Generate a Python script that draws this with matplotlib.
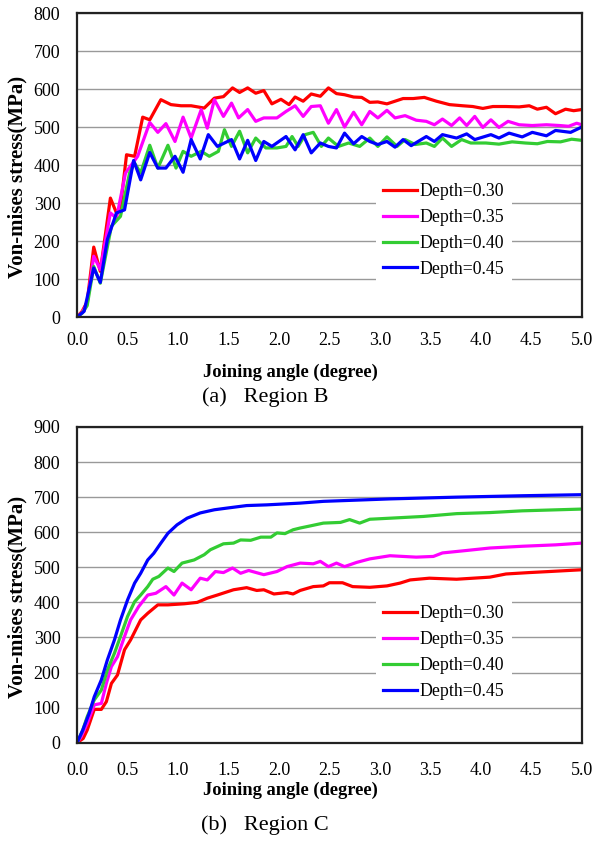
import numpy as np
import matplotlib
matplotlib.use("Agg")
import matplotlib.pyplot as plt

# Fonts - Times like look of the original figure
plt.rcParams['font.family'] = ['Liberation Serif', 'DejaVu Serif']

# Data (joining angle in degree, stress in MPa)

depth_labels = ['Depth=0.30', 'Depth=0.35', 'Depth=0.40', 'Depth=0.45']
depth_colors = ['#ff0000', '#ff00ff', '#33cc33', '#0000ff']

# Region B
b_x30 = [0, 0.05, 0.1, 0.165, 0.23, 0.33, 0.39, 0.43, 0.49, 0.57, 0.65, 0.72, 0.83, 0.93,
         1.03, 1.13, 1.26, 1.36, 1.45, 1.54, 1.61, 1.69, 1.77, 1.85, 1.93, 2.02, 2.1, 2.16,
         2.24, 2.32, 2.41, 2.49, 2.57, 2.65, 2.74, 2.82, 2.9, 2.98, 3.07, 3.15, 3.23, 3.33,
         3.44, 3.56, 3.69, 3.82, 3.92, 4.02, 4.12, 4.25, 4.38, 4.48, 4.56, 4.65, 4.74, 4.84,
         4.92, 5.0]
b_y30 = [0, 15, 40, 184, 120, 313, 274, 290, 427, 423, 526, 519, 572, 559,
         556, 556, 550, 576, 580, 603, 591, 603, 589, 596, 561, 573, 559, 579,
         568, 587, 581, 603, 588, 585, 579, 578, 565, 566, 561, 568, 575, 575,
         578, 568, 559, 556, 554, 549, 554, 554, 553, 556, 547, 552, 535, 547,
         543, 546]

b_x35 = [0, 0.05, 0.1, 0.165, 0.23, 0.33, 0.39, 0.48, 0.6, 0.72, 0.8, 0.88, 0.97, 1.05,
         1.13, 1.23, 1.29, 1.36, 1.45, 1.53, 1.6, 1.69, 1.77, 1.85, 1.98, 2.07, 2.16, 2.24,
         2.32, 2.41, 2.49, 2.57, 2.65, 2.74, 2.82, 2.9, 2.98, 3.07, 3.15, 3.25, 3.36, 3.46,
         3.54, 3.62, 3.71, 3.79, 3.86, 3.94, 4.02, 4.1, 4.18, 4.27, 4.38, 4.51, 4.65, 4.78,
         4.87, 4.95, 5.0]
b_y35 = [0, 12, 35, 160, 125, 274, 260, 379, 423, 512, 486, 509, 462, 526,
         471, 546, 497, 572, 528, 563, 524, 546, 515, 524, 524, 541, 556, 528,
         554, 556, 510, 546, 500, 539, 506, 541, 524, 544, 524, 530, 518, 515,
         506, 521, 504, 524, 504, 528, 499, 519, 499, 515, 506, 504, 506, 504,
         502, 510, 506]

b_x40 = [0, 0.05, 0.1, 0.165, 0.23, 0.34, 0.43, 0.52, 0.57, 0.63, 0.72, 0.8, 0.9, 0.98,
         1.05, 1.13, 1.23, 1.31, 1.4, 1.46, 1.53, 1.61, 1.69, 1.77, 1.87, 1.98, 2.07, 2.13,
         2.19, 2.26, 2.34, 2.42, 2.49, 2.59, 2.69, 2.8, 2.9, 2.98, 3.07, 3.17, 3.25, 3.35,
         3.46, 3.54, 3.62, 3.71, 3.81, 3.9, 4.05, 4.18, 4.31, 4.44, 4.56, 4.66, 4.79, 4.9,
         5.0]
b_y40 = [0, 10, 30, 133, 89, 239, 265, 379, 405, 379, 452, 392, 452, 392,
         436, 423, 436, 423, 436, 493, 449, 489, 432, 471, 445, 445, 449, 475,
         449, 480, 486, 449, 471, 449, 458, 449, 471, 449, 474, 449, 467, 454,
         458, 449, 471, 449, 467, 458, 458, 455, 461, 458, 456, 462, 461, 468,
         465]

b_x45 = [0, 0.07, 0.165, 0.23, 0.3, 0.39, 0.47, 0.56, 0.63, 0.72, 0.8, 0.88, 0.97, 1.05,
         1.13, 1.22, 1.3, 1.39, 1.53, 1.61, 1.69, 1.77, 1.85, 1.93, 2.07, 2.16, 2.24, 2.32,
         2.41, 2.49, 2.57, 2.65, 2.74, 2.82, 2.9, 2.98, 3.07, 3.15, 3.23, 3.31, 3.46, 3.54,
         3.62, 3.76, 3.86, 3.94, 4.1, 4.18, 4.28, 4.41, 4.51, 4.65, 4.74, 4.89, 5.0]
b_y45 = [0, 15, 129, 91, 204, 274, 282, 412, 361, 433, 392, 392, 423, 381,
         467, 416, 480, 449, 467, 416, 465, 412, 462, 449, 475, 440, 480, 432,
         458, 449, 445, 484, 456, 475, 462, 454, 462, 447, 467, 451, 475, 462,
         480, 471, 482, 467, 480, 471, 484, 474, 486, 477, 491, 486, 500]

# Region C
c_x30 = [0, 0.06, 0.1, 0.17, 0.24, 0.29, 0.34, 0.4, 0.47, 0.53, 0.63, 0.7, 0.8, 0.9,
         1.06, 1.19, 1.29, 1.39, 1.55, 1.68, 1.78, 1.85, 1.95, 2.08, 2.14, 2.21, 2.34, 2.44,
         2.5, 2.63, 2.73, 2.9, 3.07, 3.2, 3.3, 3.49, 3.76, 4.09, 4.25, 4.48, 4.68, 5.0]
c_y30 = [0, 12, 36, 95, 95, 117, 169, 193, 265, 293, 350, 369, 393, 393,
         396, 400, 412, 421, 436, 442, 434, 436, 424, 428, 424, 434, 445, 447,
         456, 456, 445, 443, 447, 455, 464, 469, 466, 472, 481, 485, 488, 493]

c_x35 = [0, 0.04, 0.1, 0.17, 0.24, 0.29, 0.34, 0.4, 0.47, 0.53, 0.61, 0.7, 0.78, 0.88,
         0.96, 1.04, 1.13, 1.22, 1.29, 1.37, 1.45, 1.54, 1.62, 1.7, 1.85, 1.98, 2.08, 2.21,
         2.34, 2.41, 2.49, 2.57, 2.65, 2.77, 2.9, 3.1, 3.36, 3.53, 3.62, 3.86, 4.09, 4.41,
         4.74, 5.0]
c_y35 = [0, 17, 55, 108, 112, 169, 217, 245, 303, 350, 388, 421, 426, 445,
         421, 455, 436, 469, 464, 488, 485, 498, 483, 491, 479, 488, 502, 512,
         510, 517, 502, 512, 502, 514, 524, 533, 529, 531, 541, 548, 555, 560,
         564, 569]

c_x40 = [0, 0.056, 0.1, 0.17, 0.24, 0.3, 0.37, 0.43, 0.5, 0.57, 0.63, 0.7, 0.75, 0.81,
         0.9, 0.96, 1.04, 1.16, 1.26, 1.32, 1.45, 1.55, 1.62, 1.72, 1.82, 1.92, 1.98, 2.06,
         2.14, 2.21, 2.31, 2.44, 2.61, 2.7, 2.8, 2.9, 3.1, 3.43, 3.76, 4.09, 4.41, 5.0]
c_y40 = [0, 36, 74, 122, 150, 207, 255, 303, 360, 402, 421, 445, 466, 474,
         498, 488, 512, 521, 536, 550, 567, 569, 578, 577, 586, 586, 598, 596,
         607, 612, 618, 626, 628, 636, 626, 637, 640, 645, 653, 656, 661, 666]

c_x45 = [0, 0.056, 0.12, 0.17, 0.24, 0.3, 0.37, 0.43, 0.5, 0.57, 0.63, 0.7, 0.76, 0.83,
         0.9, 0.99, 1.09, 1.22, 1.36, 1.49, 1.68, 1.88, 2.21, 2.44, 3.1, 3.76, 4.41, 5.0]
c_y45 = [0, 36, 84, 131, 179, 236, 293, 350, 407, 455, 483, 521, 540, 569,
         597, 621, 640, 655, 664, 669, 676, 678, 683, 688, 695, 700, 704, 707]

x_ticks = [0.0, 0.5, 1.0, 1.5, 2.0, 2.5, 3.0, 3.5, 4.0, 4.5, 5.0]


# Draws one Excel style panel with the four depth curves

def draw_panel(ax, xs, ys, ymax, xpad):
    for x, y, lab, col in zip(xs, ys, depth_labels, depth_colors):
        ax.plot(x, y, color=col, lw=2.3, label=lab, solid_joinstyle='round')
    ax.set_xlim(0, 5)
    ax.set_ylim(0, ymax)
    ax.set_xticks(x_ticks)
    ax.set_xticklabels(['%.1f' % t for t in x_ticks])
    ax.set_yticks(np.arange(0, ymax + 1, 100))
    ax.tick_params(length=0, labelsize=13)
    ax.tick_params(axis='x', pad=xpad)
    ax.tick_params(axis='y', pad=12)
    ax.grid(axis='y', color='#999999', lw=1)
    ax.set_axisbelow(True)
    for sp in ax.spines.values():
        sp.set_color('#222222')
        sp.set_linewidth(1.6)
    leg = ax.legend(loc='center', bbox_to_anchor=(0.727, 0.285), frameon=True,
                    fontsize=12.8, handlelength=1.9, handletextpad=0.15,
                    labelspacing=0.5, borderpad=0.4)
    leg.get_frame().set_facecolor('white')
    leg.get_frame().set_edgecolor('none')
    leg.get_frame().set_alpha(1)


fig = plt.figure(figsize=(5.93, 8.42), dpi=100)

ax1 = fig.add_axes([0.130, 0.6235, 0.851, 0.361])
draw_panel(ax1, [b_x30, b_x35, b_x40, b_x45], [b_y30, b_y35, b_y40, b_y45], 800, 11)

ax2 = fig.add_axes([0.130, 0.1179, 0.851, 0.375])
draw_panel(ax2, [c_x30, c_x35, c_x40, c_x45], [c_y30, c_y35, c_y40, c_y45], 900, 14)

# Axis titles and captions
for yl, xl, cap_y, cap in [(1 - 177 / 842, 1 - 372 / 842, 1 - 397 / 842, '(a)   Region B'),
                           (1 - 597 / 842, 1 - 790 / 842, 1 - 825 / 842, '(b)   Region C')]:
    fig.text(17 / 593, yl, 'Von-mises stress(MPa)', rotation=90, ha='center', va='center',
             fontsize=15, fontweight='bold')
    fig.text(290 / 593, xl, 'Joining angle (degree)', ha='center', va='center',
             fontsize=13.3, fontweight='bold')
    fig.text(265 / 593, cap_y, cap, ha='center', va='center', fontsize=16)

plt.savefig('out.png', dpi=100)
